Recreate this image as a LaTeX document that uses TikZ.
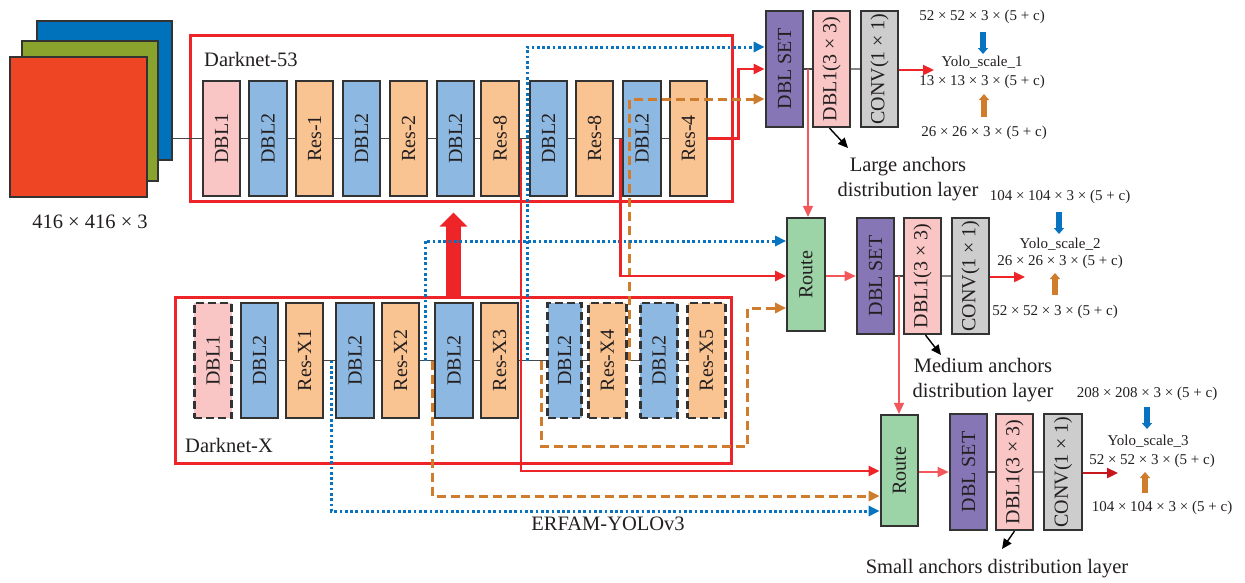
\documentclass[tikz,border=0pt]{standalone}
\usepackage{fontspec}
\setmainfont{Liberation Serif}
\usetikzlibrary{arrows.meta,calc}

\definecolor{txt}{HTML}{231F20}
\definecolor{edge}{HTML}{333333}
\definecolor{cpink}{HTML}{F9C6C5}
\definecolor{cblue}{HTML}{8DB8E2}
\definecolor{corange}{HTML}{F9C392}
\definecolor{cpurple}{HTML}{8676B5}
\definecolor{cgray}{HTML}{CDCDCD}
\definecolor{cgreen}{HTML}{9CD3A7}
\definecolor{lred}{HTML}{EE2528}
\definecolor{dred}{HTML}{C8161D}
\definecolor{pred}{HTML}{F2585B}
\definecolor{lblue}{HTML}{0873C0}
\definecolor{lorange}{HTML}{CF7D2C}
\definecolor{sqblue}{HTML}{0072BC}
\definecolor{sqgreen}{HTML}{8AA32D}
\definecolor{sqred}{HTML}{EE4525}

\tikzset{
  blk/.style={draw=edge, line width=2.2pt, minimum width=37.5pt, minimum height=115pt,
    inner sep=0pt, text=txt, font=\fontsize{20}{24}\selectfont},
  dblk/.style={blk, line width=2.8pt, dash pattern=on 8pt off 4pt},
  headblk/.style={blk, minimum height=116pt},
  frame/.style={draw=lred, line width=3pt, inner sep=0pt},
  sq/.style={draw=edge, line width=1.8pt, inner sep=0pt},
  row/.style={draw=edge!90, line width=1.4pt},
  tip/.style={-{Triangle[length=11pt,width=10pt]}},
  rline/.style={draw=lred, line width=2.3pt, tip},
  rlight/.style={draw=pred, line width=1.5pt, tip},
  bdot/.style={draw=lblue, line width=3pt, dash pattern=on 2.7pt off 2.6pt, tip},
  odash/.style={draw=lorange, line width=3pt, dash pattern=on 9pt off 5pt, tip},
  ptr/.style={draw=black, line width=1.4pt, -{Triangle[length=10pt,width=9pt]}},
  yarr/.style={line width=6pt, -{Triangle[length=6pt,width=10pt]}},
  bigred/.style={draw=lred, line width=15pt, -{Triangle[length=14pt,width=27pt]}},
  lab/.style={text=txt, inner sep=0pt, font=\fontsize{20.5}{25}\selectfont, align=center},
  dim/.style={text=txt, inner sep=0pt, font=\fontsize{15}{18}\selectfont},
}

\begin{document}
\begin{tikzpicture}[x=1pt,y=-1pt]
\useasboundingbox (0,0) rectangle (1245,582);
\fill[white] (0,0) rectangle (1245,582);

% input tensor
\node[sq, fill=sqblue, minimum width=135pt, minimum height=139pt] (sqb) at (104.5,90.5) {};
\node[sq, fill=sqgreen, minimum width=136pt, minimum height=140pt] (sqg) at (90,111) {};
\node[sq, fill=sqred, minimum width=137pt, minimum height=140pt] (sqr) at (78.5,127) {};
\node[lab] (insz) at (90,222) {416 × 416 × 3};

% backbone frames
\node[frame, minimum width=542pt, minimum height=166pt] (f53) at (461,118) {};
\node[frame, minimum width=556pt, minimum height=166pt] (fX) at (453,380) {};
\node[lab, anchor=west] (t53) at (204,59) {Darknet-53};
\node[lab, anchor=west] (tX) at (185,445) {Darknet-X};

% Darknet-53 row
\node[blk, fill=cpink]   (a1)  at (221.5,138.5) {\rotatebox{90}{DBL1}};
\node[blk, fill=cblue]   (a2)  at (268,138.5)   {\rotatebox{90}{DBL2}};
\node[blk, fill=corange] (a3)  at (314.5,138.5) {\rotatebox{90}{Res-1}};
\node[blk, fill=cblue]   (a4)  at (361.5,138.5) {\rotatebox{90}{DBL2}};
\node[blk, fill=corange] (a5)  at (408.5,138.5) {\rotatebox{90}{Res-2}};
\node[blk, fill=cblue]   (a6)  at (455.5,138.5) {\rotatebox{90}{DBL2}};
\node[blk, fill=corange] (a7)  at (500,138.5)   {\rotatebox{90}{Res-8}};
\node[blk, fill=cblue]   (a8)  at (548.5,138.5) {\rotatebox{90}{DBL2}};
\node[blk, fill=corange] (a9)  at (594.5,138.5) {\rotatebox{90}{Res-8}};
\node[blk, fill=cblue]   (a10) at (642,138.5)   {\rotatebox{90}{DBL2}};
\node[blk, fill=corange] (a11) at (688.5,138.5) {\rotatebox{90}{Res-4}};

\draw[row] (sqb.east |- a1.west) -- (a1.west);
\foreach \p/\q in {a1/a2,a2/a3,a3/a4,a4/a5,a5/a6,a6/a7,a7/a8,a8/a9,a9/a10,a10/a11}
  \draw[row] (\p.east) -- (\q.west);

% Darknet-X row
\node[dblk, fill=cpink]  (b1)  at (213,360.5)   {\rotatebox{90}{DBL1}};
\node[blk, fill=cblue]   (b2)  at (259.5,360.5) {\rotatebox{90}{DBL2}};
\node[blk, fill=corange] (b3)  at (304.5,360.5) {\rotatebox{90}{Res-X1}};
\node[blk, fill=cblue]   (b4)  at (355,360.5)   {\rotatebox{90}{DBL2}};
\node[blk, fill=corange] (b5)  at (400.5,360.5) {\rotatebox{90}{Res-X2}};
\node[blk, fill=cblue]   (b6)  at (454,360.5)   {\rotatebox{90}{DBL2}};
\node[blk, fill=corange] (b7)  at (499.5,360.5) {\rotatebox{90}{Res-X3}};
\node[dblk, fill=cblue, minimum width=34pt] (b8) at (564.5,360.5) {\rotatebox{90}{DBL2}};
\node[dblk, fill=corange] (b9)  at (607.5,360.5) {\rotatebox{90}{Res-X4}};
\node[dblk, fill=cblue]   (b10) at (659,360.5)   {\rotatebox{90}{DBL2}};
\node[dblk, fill=corange] (b11) at (706.5,360.5) {\rotatebox{90}{Res-X5}};

\foreach \p/\q in {b1/b2,b2/b3,b3/b4,b4/b5,b5/b6,b6/b7,b7/b8,b8/b9,b9/b10,b10/b11}
  \draw[row] (\p.east) -- (\q.west);

% large-scale head
\node[headblk, fill=cpurple] (sA) at (784.5,69) {\rotatebox{90}{DBL SET}};
\node[headblk, fill=cpink]   (dA) at (831.5,69) {\rotatebox{90}{DBL1(3 × 3)}};
\node[headblk, fill=cgray]   (cA) at (879.5,69) {\rotatebox{90}{CONV(1 × 1)}};
\draw[row] (sA.east) -- (dA.west);
\draw[row, draw=edge!60] (dA.east) -- (cA.west);

% medium-scale head
\node[blk, fill=cgreen, minimum height=113pt] (rM) at (806,274.5) {\rotatebox{90}{Route}};
\node[headblk, fill=cpurple] (sM) at (875.5,276) {\rotatebox{90}{DBL SET}};
\node[headblk, fill=cpink]   (dM) at (922.5,276) {\rotatebox{90}{DBL1(3 × 3)}};
\node[headblk, fill=cgray]   (cM) at (970.5,276) {\rotatebox{90}{CONV(1 × 1)}};
\draw[row] (sM.east) -- (dM.west);
\draw[row, draw=edge!60] (dM.east) -- (cM.west);

% small-scale head
\node[blk, fill=cgreen, minimum height=111pt] (rS) at (899.5,470.5) {\rotatebox{90}{Route}};
\node[headblk, fill=cpurple] (sS) at (968.5,472) {\rotatebox{90}{DBL SET}};
\node[headblk, fill=cpink]   (dS) at (1014.5,472) {\rotatebox{90}{DBL1(3 × 3)}};
\node[headblk, fill=cgray]   (cS) at (1063,472)   {\rotatebox{90}{CONV(1 × 1)}};
\draw[row] (sS.east) -- (dS.west);
\draw[row, draw=edge!60] (dS.east) -- (cS.west);

% branch points on the backbone rows
\coordinate (pR3) at (521,138.5);
\coordinate (pR2) at (620.5,138.5);
\coordinate (pB3) at (331,360.5);
\coordinate (pB2) at (425,360.5);
\coordinate (pO3) at (432,360.5);
\coordinate (pB1) at (527,360.5);
\coordinate (pO2) at (541,360.5);
\coordinate (pO1) at (629,360.5);
\coordinate (bx)  at (453.5,0);

% feature transfer between the two backbones
\draw[bigred] (fX.north -| bx) -- ($(f53.south -| bx)+(0,10)$);

% inputs of the large-scale head
\draw[bdot] (pB1) |- ($(sA.west)+(0,-22)$);
\draw[rline] (a11.east) -- ++(30,0) |- (sA.west);
\draw[odash] (pO1) |- ($(sA.west)+(0,30)$);

% inputs of the medium-scale route
\draw[bdot] (pB2) |- ($(rM.west)+(0,-33.5)$);
\draw[rline] (pR2) |- ($(rM.west)+(0,1.5)$);
\draw[odash] (pO2) -- ++(0,85.5) -- ++(206,0) |- ($(rM.west)+(0,33.5)$);

% inputs of the small-scale route
\draw[rline] (pR3) |- ($(rS.west)+(0,0.5)$);
\draw[odash] (pO3) |- ($(rS.west)+(0,25.5)$);
\draw[bdot] (pB3) |- ($(rS.west)+(0,40.5)$);

% up-sampling paths between heads
\coordinate (kA) at ($(sA.east)!0.5!(dA.west)$);
\coordinate (kM) at ($(sM.east)!0.5!(dM.west)$);
\draw[rlight] (kA) -- (kA |- rM.north);
\draw[rlight] (kM) -- (kM |- rS.north);
\draw[rlight] (rM.east |- sM.west) -- (sM.west);
\draw[rlight] (rS.east |- sS.west) -- (sS.west);

% detection outputs
\coordinate (oA) at (934,70);
\coordinate (oM) at (1025,277);
\coordinate (oS) at (1118,473);
\draw[rline] (cA.east |- oA) -- (oA);
\draw[rline] (cM.east |- oM) -- (oM);
\draw[rline, draw=dred] (cS.east |- oS) -- (oS);

% anchor labels
\node[lab] (lA) at (908,179.5) {Large anchors\\distribution layer};
\node[lab] (lM) at (983,380.5) {Medium anchors\\distribution layer};
\node[lab] (lS) at (997,569) {Small anchors distribution layer};
\draw[ptr] ($(dA.south)+(-2,0)$) -- (848,148);
\draw[ptr] ($(dM.south)+(3,0)$) -- (941,355);
\draw[ptr] ($(dS.south)+(0,0)$) -- (1002,549);

% output tensor sizes
\node[dim] (yA0) at (982,17)  {52 × 52 × 3 × (5 + c)};
\node[dim] (yA)  at (982,62)  {Yolo\_scale\_1};
\node[dim] (yA1) at (982,82)  {13 × 13 × 3 × (5 + c)};
\node[dim] (yA2) at (984,133) {26 × 26 × 3 × (5 + c)};
\draw[yarr, draw=lblue, fill=lblue] (983,32) -- (983,54);
\draw[yarr, draw=lorange, fill=lorange] (984,117) -- (984,94);

\node[dim] (yM0) at (1060,197) {104 × 104 × 3 × (5 + c)};
\node[dim] (yM)  at (1060,244) {Yolo\_scale\_2};
\node[dim] (yM1) at (1060,262) {26 × 26 × 3 × (5 + c)};
\node[dim] (yM2) at (1055,312) {52 × 52 × 3 × (5 + c)};
\draw[yarr, draw=lblue, fill=lblue] (1059,212) -- (1059,234);
\draw[yarr, draw=lorange, fill=lorange] (1055,295) -- (1055,273);

\node[dim] (yS0) at (1147,394) {208 × 208 × 3 × (5 + c)};
\node[dim] (yS)  at (1148,441) {Yolo\_scale\_3};
\node[dim] (yS1) at (1152,461) {52 × 52 × 3 × (5 + c)};
\node[dim] (yS2) at (1162,508) {104 × 104 × 3 × (5 + c)};
\draw[yarr, draw=lblue, fill=lblue] (1147,407) -- (1147,429);
\draw[yarr, draw=lorange, fill=lorange] (1145,493) -- (1145,472);

\node[lab] (title) at (608,524) {ERFAM-YOLOv3};
\end{tikzpicture}
\end{document}
